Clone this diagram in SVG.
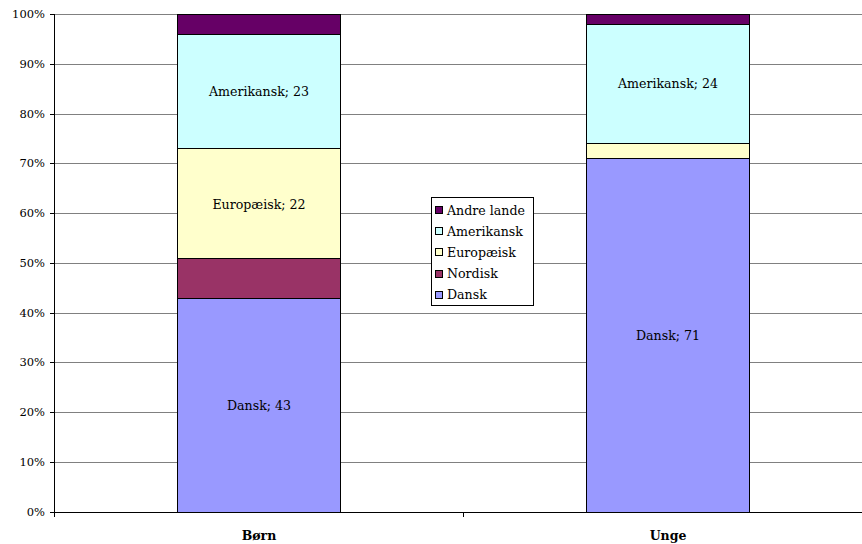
<svg xmlns="http://www.w3.org/2000/svg" width="862" height="544" viewBox="0 0 862 544">
<style>
text{font-family:"DejaVu Serif","Liberation Serif",serif;font-size:12.6px;fill:#000}
.ax{text-anchor:end;font-size:11.5px}
.lbl{text-anchor:middle}
.cat{text-anchor:middle;font-weight:bold;font-size:12.5px}
.grid{stroke:#808080;stroke-width:1}
.seg{stroke:#000;stroke-width:1}
.dansk{fill:#9999FF}.nordisk{fill:#993366}.euro{fill:#FFFFCC}.amer{fill:#CCFFFF}.andre{fill:#660066}
</style>
<rect width="862" height="544" fill="#fff"/>
<g id="grid">
<line class="grid" x1="54" y1="14.5" x2="862" y2="14.5"/>
<line class="grid" x1="54" y1="64.5" x2="862" y2="64.5"/>
<line class="grid" x1="54" y1="114.5" x2="862" y2="114.5"/>
<line class="grid" x1="54" y1="163.5" x2="862" y2="163.5"/>
<line class="grid" x1="54" y1="213.5" x2="862" y2="213.5"/>
<line class="grid" x1="54" y1="263.5" x2="862" y2="263.5"/>
<line class="grid" x1="54" y1="313.5" x2="862" y2="313.5"/>
<line class="grid" x1="54" y1="362.5" x2="862" y2="362.5"/>
<line class="grid" x1="54" y1="412.5" x2="862" y2="412.5"/>
<line class="grid" x1="54" y1="462.5" x2="862" y2="462.5"/>
</g>
<g id="axes" stroke="#000" stroke-width="1">
<line x1="54.5" y1="14" x2="54.5" y2="517"/>
<line x1="54" y1="512.5" x2="862" y2="512.5"/>
<line x1="50" y1="14.5" x2="54" y2="14.5"/>
<line x1="50" y1="64.5" x2="54" y2="64.5"/>
<line x1="50" y1="114.5" x2="54" y2="114.5"/>
<line x1="50" y1="163.5" x2="54" y2="163.5"/>
<line x1="50" y1="213.5" x2="54" y2="213.5"/>
<line x1="50" y1="263.5" x2="54" y2="263.5"/>
<line x1="50" y1="313.5" x2="54" y2="313.5"/>
<line x1="50" y1="362.5" x2="54" y2="362.5"/>
<line x1="50" y1="412.5" x2="54" y2="412.5"/>
<line x1="50" y1="462.5" x2="54" y2="462.5"/>
<line x1="50" y1="512.5" x2="54" y2="512.5"/>
<line x1="463.5" y1="512" x2="463.5" y2="517"/>
</g>
<g id="yticks">
<text class="ax" x="45" y="18">100%</text>
<text class="ax" x="45" y="68">90%</text>
<text class="ax" x="45" y="118">80%</text>
<text class="ax" x="45" y="167">70%</text>
<text class="ax" x="45" y="217">60%</text>
<text class="ax" x="45" y="267">50%</text>
<text class="ax" x="45" y="317">40%</text>
<text class="ax" x="45" y="366">30%</text>
<text class="ax" x="45" y="416">20%</text>
<text class="ax" x="45" y="466">10%</text>
<text class="ax" x="45" y="516">0%</text>
</g>
<g id="bar-born">
<rect class="seg dansk" x="177.5" y="298.5" width="163" height="214"/>
<rect class="seg nordisk" x="177.5" y="258.5" width="163" height="40"/>
<rect class="seg euro" x="177.5" y="148.5" width="163" height="110"/>
<rect class="seg amer" x="177.5" y="34.5" width="163" height="114"/>
<rect class="seg andre" x="177.5" y="14.5" width="163" height="20"/>
<text class="lbl" x="259" y="96">Amerikansk; 23</text>
<text class="lbl" x="259" y="209">Europæisk; 22</text>
<text class="lbl" x="259" y="410">Dansk; 43</text>
</g>
<g id="bar-unge">
<rect class="seg dansk" x="586.5" y="158.5" width="163" height="354"/>
<rect class="seg euro" x="586.5" y="143.5" width="163" height="15"/>
<rect class="seg amer" x="586.5" y="24.5" width="163" height="119"/>
<rect class="seg andre" x="586.5" y="14.5" width="163" height="10"/>
<text class="lbl" x="668" y="88">Amerikansk; 24</text>
<text class="lbl" x="668" y="340">Dansk; 71</text>
</g>
<g id="legend">
<rect x="431.5" y="197.5" width="102" height="108" fill="#fff" stroke="#000"/>
<rect class="seg andre" x="435.5" y="206.5" width="7" height="7"/>
<rect class="seg amer" x="435.5" y="227.5" width="7" height="7"/>
<rect class="seg euro" x="435.5" y="248.5" width="7" height="7"/>
<rect class="seg nordisk" x="435.5" y="270.5" width="7" height="7"/>
<rect class="seg dansk" x="435.5" y="291.5" width="7" height="7"/>
<text x="447" y="215">Andre lande</text>
<text x="447" y="236">Amerikansk</text>
<text x="447" y="257">Europæisk</text>
<text x="447" y="278">Nordisk</text>
<text x="447" y="299">Dansk</text>
</g>
<g id="categories">
<text class="cat" x="259" y="540">Børn</text>
<text class="cat" x="668" y="540">Unge</text>
</g>
</svg>
